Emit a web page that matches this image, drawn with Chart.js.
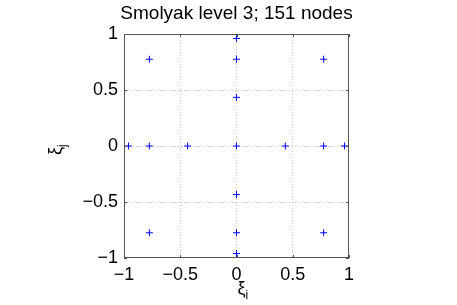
<!DOCTYPE html>
<html>
<head>
<meta charset="utf-8">
<script src="https://cdn.jsdelivr.net/npm/chart.js@4/dist/chart.umd.min.js"></script>
<style>
  html, body { margin: 0; padding: 0; background: #fff; }
  #wrap { width: 457px; height: 305px; }
</style>
</head>
<body>
<div id="wrap"><canvas id="smolyakChart" width="457" height="305"></canvas></div>
<script>
// projected node coordinates (xi_i, xi_j)
const nodeX = [0, -0.4342, 0.4342, -0.7746, 0.7746, -0.9605, 0.9605,
  0, 0, 0, 0, 0, 0,
  -0.7746, 0.7746, -0.7746, 0.7746];
const nodeY = [0, 0, 0, 0, 0, 0, 0,
  -0.4342, 0.4342, -0.7746, 0.7746, -0.9605, 0.9605,
  -0.7746, -0.7746, 0.7746, 0.7746];
const tickValues = [-1, -0.5, 0, 0.5, 1];
const titleText = "Smolyak level 3; 151 nodes";

const fontFamily = "'Liberation Sans', Arial, Helvetica, sans-serif";

function fmtTick(v) {
  const s = String(Math.abs(v));
  return v < 0 ? "\u2212" + s : s;
}

// box, inward ticks, title and axis labels drawn like the original figure
const framePlugin = {
  id: "frame",
  afterDraw(chart) {
    const { ctx, chartArea: a, scales } = chart;
    ctx.save();
    ctx.strokeStyle = "#555";
    ctx.lineWidth = 1;
    ctx.strokeRect(a.left + 0.5, a.top + 0.5, a.right - a.left - 1, a.bottom - a.top - 1);
    ctx.beginPath();
    tickValues.forEach((v) => {
      const px = Math.round(scales.x.getPixelForValue(v)) + 0.5;
      ctx.moveTo(px, a.bottom); ctx.lineTo(px, a.bottom - 3);
      ctx.moveTo(px, a.top); ctx.lineTo(px, a.top + 3);
      const py = Math.round(scales.y.getPixelForValue(v)) + 0.5;
      ctx.moveTo(a.left, py); ctx.lineTo(a.left + 3, py);
      ctx.moveTo(a.right, py); ctx.lineTo(a.right - 3, py);
    });
    ctx.stroke();

    const cx = (a.left + a.right) / 2;
    ctx.fillStyle = "#000";
    ctx.textBaseline = "alphabetic";
    // title
    ctx.textAlign = "center";
    ctx.font = "19px " + fontFamily;
    ctx.fillText(titleText, cx, 19);
    // x label: xi_i
    ctx.font = "18px " + fontFamily;
    ctx.textAlign = "left";
    ctx.fillText("\u03BE", cx + 1, 294);
    ctx.font = "12px " + fontFamily;
    ctx.fillText("i", cx + 9, 299);
    // y label: xi_j rotated
    ctx.translate(61, 150);
    ctx.rotate(-Math.PI / 2);
    ctx.font = "18px " + fontFamily;
    ctx.fillText("\u03BE", -5, 0);
    ctx.font = "12px " + fontFamily;
    ctx.fillText("j", 3, 5);
    ctx.restore();
  },
};

const points = nodeX.map((x, i) => ({ x: x, y: nodeY[i] }));

new Chart(document.getElementById("smolyakChart"), {
  type: "scatter",
  data: {
    datasets: [
      {
        label: "nodes",
        data: points,
        pointStyle: "cross",
        pointRadius: 3.5,
        pointBorderWidth: 1,
        borderColor: "rgb(0, 0, 255)",
        backgroundColor: "rgb(0, 0, 255)",
      },
    ],
  },
  options: {
    responsive: false,
    animation: false,
    layout: { padding: { left: 0, right: 108, top: 34, bottom: 0 } },
    plugins: {
      legend: { display: false },
      tooltip: { enabled: false },
      title: { display: false },
    },
    scales: {
      x: {
        type: "linear",
        min: -1,
        max: 1,
        afterBuildTicks: (s) => { s.ticks = tickValues.map((v) => ({ value: v })); },
        afterFit: (s) => { s.height = 47; },
        ticks: {
          color: "#000",
          padding: 6,
          maxRotation: 0,
          font: { family: fontFamily, size: 18 },
          callback: (v) => fmtTick(v),
        },
        grid: {
          drawTicks: false,
          color: (c) => (Math.abs(c.tick.value) === 1 ? "rgba(0,0,0,0)" : "#c8c8c8"),
          lineWidth: 1,
        },
        border: { display: false, dash: [1, 2] },
      },
      y: {
        type: "linear",
        min: -1,
        max: 1,
        afterBuildTicks: (s) => { s.ticks = tickValues.map((v) => ({ value: v })); },
        afterFit: (s) => { s.width = 124; },
        ticks: {
          color: "#000",
          padding: 6,
          font: { family: fontFamily, size: 18 },
          callback: (v) => fmtTick(v),
        },
        grid: {
          drawTicks: false,
          color: (c) => (Math.abs(c.tick.value) === 1 ? "rgba(0,0,0,0)" : "#c8c8c8"),
          lineWidth: 1,
        },
        border: { display: false, dash: [1, 2] },
      },
    },
  },
  plugins: [framePlugin],
});
</script>
</body>
</html>
